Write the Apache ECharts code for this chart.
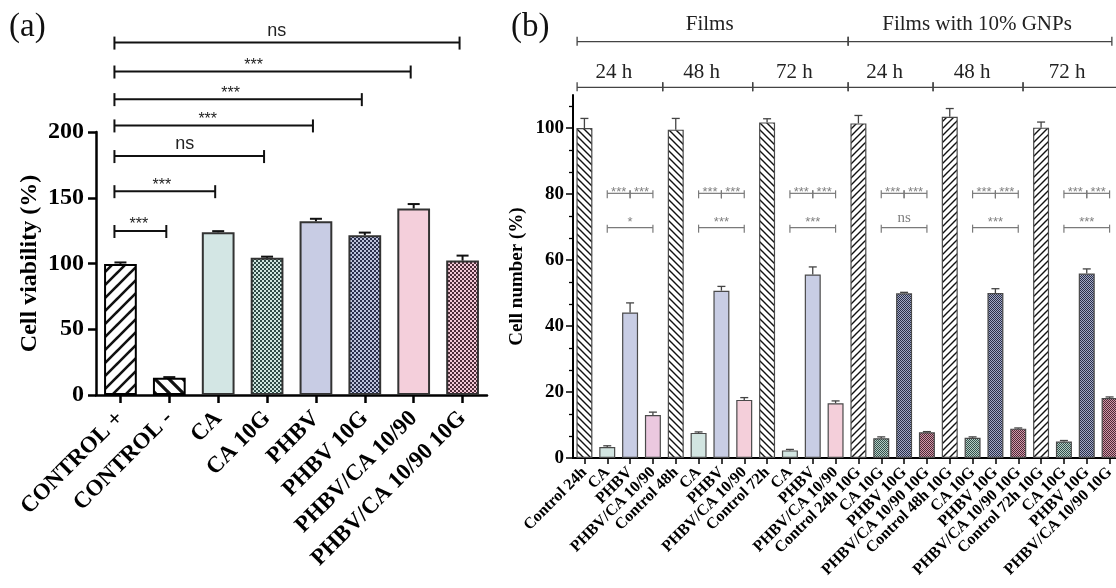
<!DOCTYPE html>
<html><head><meta charset="utf-8">
<script src="https://cdn.jsdelivr.net/npm/echarts@6/dist/echarts.min.js"></script>
<style>html,body{margin:0;padding:0;background:#fff}#c{width:1116px;height:588px}</style>
</head><body><div id="c"></div>
<script>
// ---------------- Panel (a) data ----------------
const catsA = ['CONTROL +', 'CONTROL -', 'CA', 'CA 10G', 'PHBV', 'PHBV 10G', 'PHBV/CA 10/90', 'PHBV/CA 10/90 10G'];
const kindsA = ['ctrlPlus', 'ctrlMinus', 'ca', 'caG', 'phbv', 'phbvG', 'blend', 'blendG'];
const valsA = [99.7, 13.2, 123.8, 104.4, 132.1, 121.5, 141.8, 102.2];
const errTopA = [100.8, 13.6, 124.6, 105.2, 134.0, 123.5, 145.2, 106.0];
const ticksA = [0, 50, 100, 150, 200];
const sigStartA = [0, 0, 0, 0, 0, 0, 0];
const sigEndA = [1, 2, 3, 4, 5, 6, 7];
const sigYA = [124.7, 155, 181.7, 205, 225, 246, 268];
const sigLabelA = ['***', '***', 'ns', '***', '***', '***', 'ns'];

// ---------------- Panel (b) data ----------------
const catsB = ['Control 24h', 'CA', 'PHBV', 'PHBV/CA 10/90', 'Control 48h', 'CA', 'PHBV', 'PHBV/CA 10/90',
  'Control 72h', 'CA', 'PHBV', 'PHBV/CA 10/90', 'Control 24h 10G', 'CA 10G', 'PHBV 10G', 'PHBV/CA 10/90 10G',
  'Control 48h 10G', 'CA 10G', 'PHBV 10G', 'PHBV/CA 10/90 10G', 'Control 72h 10G', 'CA 10G', 'PHBV 10G', 'PHBV/CA 10/90 10G'];
const kindsB = ['ctrlF', 'ca', 'phbv', 'blend1', 'ctrlF', 'ca', 'phbv', 'blend', 'ctrlF', 'ca', 'phbv', 'blend',
  'ctrlG', 'caG', 'phbvG', 'blendG', 'ctrlG', 'caG', 'phbvG', 'blendG', 'ctrlG', 'caG', 'phbvG', 'blendG'];
const valsB = [100, 3.3, 44.1, 13.0, 99.5, 7.6, 50.7, 17.6, 101.7, 2.3, 55.6, 16.6,
  101.4, 6.0, 49.9, 7.8, 103.4, 6.1, 50.0, 8.9, 100.1, 5.0, 55.9, 18.2];
const errTopB = [102.9, 3.7, 47.0, 13.9, 102.9, 7.9, 52.0, 18.3, 102.8, 2.6, 57.9, 17.3,
  103.8, 6.4, 50.2, 8.0, 105.9, 6.4, 51.3, 9.1, 101.8, 5.3, 57.3, 18.5];
const ticksB = [0, 20, 40, 60, 80, 100];
const sigStartB = [1, 2, 1, 5, 6, 5, 9, 10, 9, 13, 14, 13, 17, 18, 17, 21, 22, 21];
const sigEndB   = [2, 3, 3, 6, 7, 7, 10, 11, 11, 14, 15, 15, 18, 19, 19, 22, 23, 23];
const sigYB     = [80.2, 80.2, 69.8, 80.2, 80.2, 69.8, 80.2, 80.2, 69.8, 80.2, 80.2, 69.8, 80.2, 80.2, 69.8, 80.2, 80.2, 69.8];
const sigLabelB = ['***', '***', '*', '***', '***', '***', '***', '***', '***', '***', '***', 'ns', '***', '***', '***', '***', '***', '***'];
const headTopLabels = ['Films', 'Films with 10% GNPs'];
const headTopStart = [-0.32, 11.55];
const headTopEnd = [11.55, 23.1];
const headMidLabels = ['24 h', '48 h', '72 h', '24 h', '48 h', '72 h'];
const headMidStart = [-0.32, 3.43, 7.37, 11.55, 15.27, 19.21];
const headMidEnd = [3.43, 7.37, 11.55, 15.27, 19.21, 23.6];

// ---------------- patterns ----------------
function hatch(size, lw, dir, fg, bg) {
  const c = document.createElement('canvas'); c.width = size; c.height = size;
  const g = c.getContext('2d');
  g.fillStyle = bg; g.fillRect(0, 0, size, size);
  g.strokeStyle = fg; g.lineWidth = lw; g.lineCap = 'square';
  g.beginPath();
  for (const o of [-size, 0, size]) {
    if (dir === '/') { g.moveTo(o, size); g.lineTo(o + size, 0); }
    else { g.moveTo(o, 0); g.lineTo(o + size, size); }
  }
  g.stroke();
  return { image: c, repeat: 'repeat' };
}
function checker(cell, light, dark) {
  const c = document.createElement('canvas'); c.width = 2 * cell; c.height = 2 * cell;
  const g = c.getContext('2d');
  g.fillStyle = light; g.fillRect(0, 0, 2 * cell, 2 * cell);
  g.fillStyle = dark; g.fillRect(0, 0, cell, cell); g.fillRect(cell, cell, cell, cell);
  return { image: c, repeat: 'repeat' };
}
const fillA = {
  ctrlPlus: hatch(13, 2.6, '/', '#111', '#fff'),
  ctrlMinus: hatch(14, 3.2, '\\', '#111', '#fff'),
  ca: '#d3e6e4',
  caG: checker(2, '#cfe6df', '#2f4a46'),
  phbv: '#c8cce4',
  phbvG: checker(2, '#bcc2dc', '#2a2f4c'),
  blend: '#f4cfdb',
  blendG: checker(2, '#f2c8d6', '#4c2c38')
};
const fillB = {
  ctrlF: hatch(7, 1.4, '\\', '#111', '#fff'),
  ctrlG: hatch(7, 1.4, '/', '#111', '#fff'),
  ca: '#d2e5e1',
  phbv: '#c8cde4',
  blend1: '#ebc8df',
  blend: '#f4cfda',
  caG: checker(1, '#b3cdc5', '#35504b'),
  phbvG: checker(1, '#a2a9c6', '#2a2f48'),
  blendG: checker(1, '#d297a9', '#4d2a36')
};

const SERIF = '"Liberation Serif", "Times New Roman", serif';
const SANS = '"Liberation Sans", Arial, sans-serif';

// ---------------- render helpers ----------------
function errRender(capHalf, lw, color) {
  return function (params, api) {
    const i = api.value(0);
    const p0 = api.coord([i, api.value(1)]);
    const p1 = api.coord([i, api.value(2)]);
    return { type: 'group', children: [
      { type: 'line', shape: { x1: p0[0], y1: p0[1], x2: p1[0], y2: p1[1] }, style: { stroke: color, lineWidth: lw } },
      { type: 'line', shape: { x1: p1[0] - capHalf, y1: p1[1], x2: p1[0] + capHalf, y2: p1[1] }, style: { stroke: color, lineWidth: lw } }
    ] };
  };
}

function sigRenderA(params, api) {
  const s = api.value(0), e = api.value(1), y = api.value(2);
  const a = api.coord([s, y]), b = api.coord([e, y]);
  const x0 = a[0] - 6, x1 = b[0] - 3, yy = a[1];
  const lab = sigLabelA[params.dataIndex];
  const tx = x0 + (x1 - x0) * 0.47;
  const isNs = lab === 'ns';
  return { type: 'group', children: [
    { type: 'line', shape: { x1: x0, y1: yy, x2: x1, y2: yy }, style: { stroke: '#111', lineWidth: 2 } },
    { type: 'line', shape: { x1: x0, y1: yy - 6, x2: x0, y2: yy + 7 }, style: { stroke: '#111', lineWidth: 2 } },
    { type: 'line', shape: { x1: x1, y1: yy - 6, x2: x1, y2: yy + 7 }, style: { stroke: '#111', lineWidth: 2 } },
    { type: 'text', x: tx, y: yy - (isNs ? 12 : 6), style: { text: lab, fontFamily: SANS, fontSize: isNs ? 18 : 16, fill: '#222', align: 'center', verticalAlign: 'middle' } }
  ] };
}

function sigRenderB(params, api) {
  const s = api.value(0), e = api.value(1), y = api.value(2);
  const a = api.coord([s, y]), b = api.coord([e, y]);
  const x0 = a[0], x1 = b[0], yy = a[1];
  const lab = sigLabelB[params.dataIndex];
  const adjacent = (e - s) === 1;
  const isNs = lab === 'ns';
  const col = '#7a7a7a';
  const children = [
    { type: 'line', shape: { x1: x0, y1: yy, x2: x1, y2: yy }, style: { stroke: col, lineWidth: 1.2 } },
    { type: 'line', shape: { x1: x0, y1: yy - 3, x2: x0, y2: yy + 5 }, style: { stroke: col, lineWidth: 1.2 } },
    { type: 'line', shape: { x1: x1, y1: yy - 3, x2: x1, y2: yy + 5 }, style: { stroke: col, lineWidth: 1.2 } },
    { type: 'text', x: (x0 + x1) / 2, y: yy - (isNs ? 10 : (adjacent ? 0.5 : 5)),
      style: { text: lab, fontFamily: isNs ? SERIF : SANS, fontSize: isNs ? 15 : 13, fill: '#808080', align: 'center', verticalAlign: 'middle' } }
  ];
  return { type: 'group', children: children };
}

function catX(api, v) {
  const c0 = api.coord([0, 0])[0];
  const band = api.size([1, 0])[0];
  return c0 + v * band;
}
function headerRender(level) {
  return function (params, api) {
    const i = params.dataIndex;
    const top = api.coord([0, 110])[1];
    const starts = level === 1 ? headTopStart : headMidStart;
    const ends = level === 1 ? headTopEnd : headMidEnd;
    const labels = level === 1 ? headTopLabels : headMidLabels;
    const x0 = catX(api, starts[i]), x1 = catX(api, ends[i]);
    const yy = level === 1 ? top - 53.3 : top - 7.7;
    const col = '#444';
    return { type: 'group', children: [
      { type: 'line', shape: { x1: x0, y1: yy, x2: x1, y2: yy }, style: { stroke: col, lineWidth: 1.3 } },
      { type: 'line', shape: { x1: x0, y1: yy - 5, x2: x0, y2: yy + 4 }, style: { stroke: col, lineWidth: 1.3 } },
      { type: 'line', shape: { x1: x1, y1: yy - 5, x2: x1, y2: yy + 4 }, style: { stroke: col, lineWidth: 1.3 } },
      { type: 'text', x: (x0 + x1) / 2 + (level === 1 ? -3 : -6), y: yy - (level === 1 ? 17.5 : 14.5),
        style: { text: labels[i], fontFamily: SERIF, fontSize: 21, fill: '#222', align: 'center', verticalAlign: 'middle' } }
    ] };
  };
}

const minorTicksB = [];
for (let k = 1; k * 20 / 3 <= 108; k++) { if (k % 3 !== 0) minorTicksB.push(k * 20 / 3); }

const chart = echarts.init(document.getElementById('c'), null, { renderer: 'canvas' });
chart.setOption({
  backgroundColor: '#fff',
  animation: false,
  textStyle: { fontFamily: SERIF },
  graphic: [
    { type: 'text', left: 9, top: 11, style: { text: '(a)', fontFamily: SERIF, fontSize: 33, fill: '#111' } },
    { type: 'text', left: 511, top: 11, style: { text: '(b)', fontFamily: SERIF, fontSize: 33, fill: '#111' } }
  ],
  grid: [
    { left: 96, top: 132, width: 391, height: 263, outerBoundsMode: 'none', containLabel: false },
    { left: 573, top: 95, width: 548, height: 363, outerBoundsMode: 'none', containLabel: false }
  ],
  xAxis: [
    { gridIndex: 0, type: 'category', data: catsA,
      axisLine: { show: true, lineStyle: { color: '#000', width: 2.5 } },
      axisTick: { show: true, alignWithLabel: true, length: 8, lineStyle: { color: '#000', width: 2.5 } },
      axisLabel: { interval: 0, rotate: 45, margin: 20, fontFamily: SERIF, fontWeight: 'bold', fontSize: 23, color: '#000' },
      splitLine: { show: false } },
    { gridIndex: 1, type: 'category', data: catsB,
      axisLine: { show: true, lineStyle: { color: '#000', width: 2 } },
      axisTick: { show: true, alignWithLabel: true, length: 6, lineStyle: { color: '#000', width: 1.5 } },
      axisLabel: { interval: 0, rotate: 45, margin: 12, fontFamily: SERIF, fontWeight: 'bold', fontSize: 16, color: '#000' },
      splitLine: { show: false } }
  ],
  yAxis: [
    { gridIndex: 0, type: 'value', min: ticksA[0], max: ticksA[ticksA.length - 1], interval: 50,
      name: 'Cell viability (%)', nameLocation: 'middle', nameGap: 54,
      nameTextStyle: { fontFamily: SERIF, fontWeight: 'bold', fontSize: 24, color: '#000' },
      axisLine: { show: true, lineStyle: { color: '#000', width: 2.5 } },
      axisTick: { show: true, length: 8, lineStyle: { color: '#000', width: 2.5 } },
      axisLabel: { margin: 12, fontFamily: SERIF, fontWeight: 'bold', fontSize: 24, color: '#000' },
      splitLine: { show: false } },
    { gridIndex: 1, type: 'value', min: 0, max: 110, interval: 20,
      name: 'Cell number (%)', nameLocation: 'middle', nameGap: 46,
      nameTextStyle: { fontFamily: SERIF, fontWeight: 'bold', fontSize: 19, color: '#000' },
      axisLine: { show: true, lineStyle: { color: '#000', width: 2 } },
      axisTick: { show: true, length: 7, lineStyle: { color: '#000', width: 1.5 }, customValues: ticksB },
      axisLabel: { margin: 9, fontFamily: SERIF, fontWeight: 'bold', fontSize: 19, color: '#000', customValues: ticksB,
        formatter: v => (v > 100 ? '' : String(v)) },
      splitLine: { show: false } },
    { gridIndex: 1, type: 'value', min: 0, max: 110, position: 'left',
      axisLine: { show: false }, axisLabel: { show: false }, splitLine: { show: false },
      axisTick: { show: true, length: 4, lineStyle: { color: '#000', width: 1.3 }, customValues: minorTicksB } }
  ],
  series: [
    { type: 'bar', xAxisIndex: 0, yAxisIndex: 0, barWidth: '67%', silent: true,
      data: valsA.map((v, i) => ({ value: v, itemStyle: { color: fillA[kindsA[i]], borderColor: i < 2 ? '#000' : '#333', borderWidth: 2 } })) },
    { type: 'custom', xAxisIndex: 0, yAxisIndex: 0, silent: true, z: 3, clip: false,
      encode: { x: 0, y: 2 },
      data: valsA.map((v, i) => [i, v, errTopA[i]]), renderItem: errRender(6, 2, '#111') },
    { type: 'custom', xAxisIndex: 0, yAxisIndex: 0, silent: true, z: 3, clip: false,
      encode: { x: 0, y: 2 },
      data: sigStartA.map((s, i) => [s, sigEndA[i], sigYA[i]]), renderItem: sigRenderA },
    { type: 'bar', xAxisIndex: 1, yAxisIndex: 1, barWidth: '70%', silent: true,
      data: valsB.map((v, i) => ({ value: v, itemStyle: { color: fillB[kindsB[i]], borderColor: '#4a4a4a', borderWidth: 1.2 } })) },
    { type: 'custom', xAxisIndex: 1, yAxisIndex: 1, silent: true, z: 3, clip: false,
      encode: { x: 0, y: 2 },
      data: valsB.map((v, i) => [i, v, errTopB[i]]), renderItem: errRender(4, 1.3, '#444') },
    { type: 'custom', xAxisIndex: 1, yAxisIndex: 1, silent: true, z: 3, clip: false,
      encode: { x: 0, y: 2 },
      data: sigStartB.map((s, i) => [s, sigEndB[i], sigYB[i]]), renderItem: sigRenderB },
    { type: 'custom', xAxisIndex: 1, yAxisIndex: 1, silent: true, z: 3, clip: false,
      encode: { x: 0 },
      data: headTopStart.map((s, i) => [s, headTopEnd[i]]), renderItem: headerRender(1) },
    { type: 'custom', xAxisIndex: 1, yAxisIndex: 1, silent: true, z: 3, clip: false,
      encode: { x: 0 },
      data: headMidStart.map((s, i) => [s, headMidEnd[i]]), renderItem: headerRender(2) }
  ]
});
</script>
</body></html>
